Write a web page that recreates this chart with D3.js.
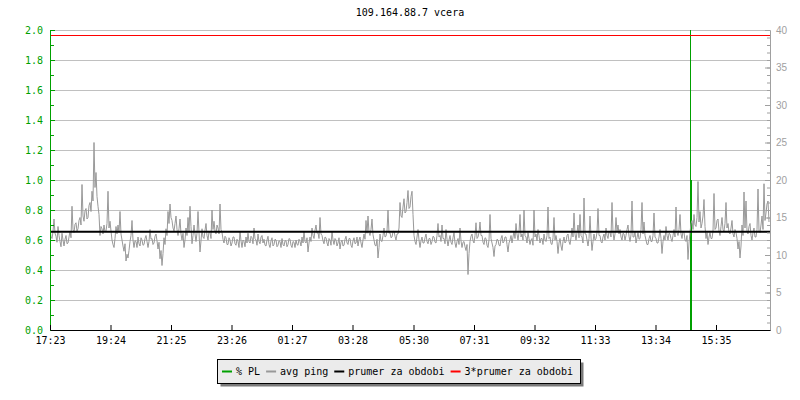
<!DOCTYPE html>
<html>
<head>
<meta charset="utf-8">
<script src="https://cdn.jsdelivr.net/npm/d3@7"></script>
<style>
  body { margin: 0; background: #fff; }
  text { font-family: "DejaVu Sans Mono", monospace; font-size: 10px; }
</style>
</head>
<body>
<div id="chart"></div>
<script>
// chart data
const title = "109.164.88.7 vcera";
const startTime = "17:23";
const spanMinutes = 1440;
const sampleMinutes = 2;
const tickLabels = ["17:23", "19:24", "21:25", "23:26", "01:27", "03:28", "05:30", "07:31", "09:32", "11:33", "13:34", "15:35"];
const plMax = 2.0, pingMax = 40;
const avgPing = 13.1;
const legendNames = ["% PL", "avg ping", "prumer za obdobi", "3*prumer za obdobi"];
const legendColors = ["#00a000", "#999999", "#000000", "#ff0000"];

// packet loss samples (time, %)
const plTimes = ["14:43", "14:45"];
const plValues = [2.6, 1.0];

// avg ping in ms, one sample every 2 minutes from 17:23
const ping = [
  13.5, 12.4, 12.2, 13.1, 14.8, 12.9, 12.5, 11.7, 13.8, 12.6, 11.8, 11.1, 12.9, 12.0, 11.2, 12.1, 12.6, 11.5, 11.6, 12.4, 13.2, 12.3, 16.5, 13.4,
  13.0, 14.1, 14.3, 13.2, 13.5, 14.6, 15.0, 14.0, 19.4, 15.2, 14.5, 15.9, 16.2, 14.8, 15.0, 16.6, 17.0, 15.8, 18.5, 17.2, 25.0, 19.0, 21.0, 17.8,
  16.5, 15.4, 12.6, 13.8, 13.5, 12.8, 14.0, 13.1, 13.2, 14.2, 18.5, 13.6, 14.5, 13.2, 12.0, 11.4, 11.0, 12.2, 13.8, 12.8, 14.0, 13.0, 15.8, 12.8,
  12.0, 11.2, 10.5, 11.5, 9.2, 10.1, 9.6, 10.6, 11.8, 12.6, 14.6, 12.0, 11.0, 11.9, 11.8, 11.0, 12.4, 11.5, 11.2, 12.3, 12.0, 11.3, 11.4, 12.2,
  12.6, 11.8, 11.0, 11.8, 13.4, 12.1, 12.2, 11.4, 11.6, 12.5, 12.8, 11.9, 10.8, 11.7, 9.5, 10.6, 8.6, 10.2, 12.3, 11.4, 13.5, 12.6, 15.8, 14.2,
  16.8, 15.0, 14.6, 13.6, 13.2, 14.2, 15.2, 13.4, 12.6, 13.5, 14.8, 12.8, 12.0, 12.9, 11.0, 12.0, 13.6, 12.6, 15.0, 13.2, 16.5, 13.8, 11.5, 12.6,

  14.0, 12.8, 11.8, 12.9, 15.8, 13.0, 10.4, 11.9, 13.5, 12.4, 12.2, 13.3, 14.2, 12.6, 12.0, 13.1, 13.0, 12.2, 16.0, 13.4, 14.5, 13.2, 12.8, 14.0,
  13.6, 12.8, 16.8, 13.4, 13.0, 12.1, 11.6, 12.5, 12.3, 11.4, 11.4, 12.3, 12.0, 11.2, 11.6, 12.4, 12.4, 11.5, 11.3, 12.1, 11.8, 11.0, 13.2, 11.9,
  11.0, 12.0, 11.8, 11.1, 12.4, 11.6, 12.9, 11.8, 11.6, 12.5, 12.3, 11.5, 13.6, 12.2, 12.0, 11.3, 12.8, 11.8, 11.5, 12.4, 12.6, 11.6, 12.1, 11.3,
  11.2, 12.0, 12.5, 11.4, 11.0, 11.9, 12.3, 11.2, 11.4, 12.1, 12.0, 11.1, 11.3, 11.9, 11.8, 11.0, 12.2, 11.4, 11.2, 11.9, 11.9, 11.1, 11.4, 12.2,
  12.1, 11.3, 11.0, 11.8, 11.7, 11.0, 12.0, 11.4, 11.3, 12.1, 11.8, 11.2, 12.4, 11.6, 13.2, 11.8, 11.6, 12.3, 10.4, 11.6, 12.4, 11.8, 13.6, 12.6,
  12.2, 13.3, 14.0, 12.9, 13.0, 12.2, 15.0, 12.8, 12.6, 11.9, 11.5, 12.4, 12.3, 11.6, 11.2, 12.2, 12.0, 11.3, 13.2, 12.0, 11.4, 12.2, 12.0, 11.2,

  11.6, 12.3, 10.8, 11.7, 12.0, 11.2, 11.3, 12.1, 12.5, 11.6, 11.4, 12.2, 12.2, 11.3, 11.0, 11.9, 12.3, 11.5, 11.6, 12.4, 11.2, 12.0, 12.4, 11.6,
  11.0, 12.0, 12.8, 12.1, 14.6, 12.9, 15.2, 13.0, 12.6, 13.4, 14.8, 12.7, 12.0, 11.3, 11.2, 12.1, 9.6, 11.0, 12.8, 11.9, 11.8, 12.6, 13.6, 12.4,
  12.5, 13.2, 16.0, 12.9, 13.0, 12.3, 12.4, 13.1, 13.2, 12.5, 12.0, 12.8, 12.8, 13.6, 17.0, 15.2, 15.0, 16.4, 17.5, 15.6, 15.8, 17.0, 18.6, 16.2,
  16.4, 17.8, 18.5, 15.4, 12.6, 11.8, 11.4, 12.4, 13.4, 12.0, 11.0, 11.9, 12.4, 11.6, 11.6, 12.3, 12.8, 11.8, 11.5, 12.2, 12.2, 11.4, 11.8, 12.5,
  12.4, 11.7, 11.6, 12.6, 14.2, 12.4, 12.6, 11.8, 14.0, 12.2, 12.2, 11.5, 13.4, 12.1, 11.2, 12.0, 12.6, 11.7, 11.4, 12.3, 13.0, 11.6, 11.0, 11.8,
  12.2, 11.4, 13.6, 11.9, 11.0, 11.7, 11.8, 11.1, 10.6, 11.4, 7.4, 10.2, 11.8, 12.5, 12.8, 11.9, 11.6, 12.6, 14.3, 12.2, 12.4, 13.0, 14.4, 12.6,

  12.6, 11.7, 11.4, 12.3, 12.2, 11.3, 11.0, 12.0, 15.4, 12.2, 11.6, 11.0, 9.8, 11.2, 11.4, 12.1, 12.0, 11.3, 11.2, 12.2, 12.6, 11.6, 11.8, 12.4,
  12.4, 11.4, 10.4, 11.6, 12.0, 12.6, 11.6, 12.4, 13.2, 12.2, 14.2, 12.8, 12.0, 13.0, 15.4, 12.4, 12.8, 12.0, 16.0, 12.6, 12.4, 11.6, 13.0, 12.2,
  11.4, 12.0, 12.2, 11.3, 16.0, 12.4, 12.8, 11.9, 13.4, 12.6, 11.6, 12.2, 12.2, 11.4, 12.8, 12.0, 11.8, 12.6, 16.4, 12.2, 12.4, 11.5, 11.4, 12.3,
  15.0, 12.0, 12.6, 11.8, 10.2, 11.6, 12.2, 11.2, 10.6, 11.8, 12.4, 11.6, 11.8, 12.6, 12.8, 11.8, 11.4, 12.3, 13.6, 12.4, 15.6, 12.8, 12.0, 13.0,
  14.0, 12.3, 15.4, 12.6, 12.4, 11.6, 17.6, 12.8, 12.8, 12.0, 11.2, 12.2, 15.2, 12.4, 10.6, 11.8, 12.8, 12.0, 12.2, 13.0, 16.2, 12.6, 12.6, 11.8,
  11.6, 12.4, 12.8, 12.0, 13.6, 12.6, 12.2, 13.2, 13.0, 12.4, 17.0, 13.0, 12.0, 12.8, 15.0, 13.2, 14.0, 12.8, 13.4, 12.4, 12.0, 12.9, 12.8, 12.0,

  12.6, 13.4, 14.0, 12.5, 11.8, 12.7, 17.2, 12.4, 12.4, 13.2, 11.6, 12.3, 13.0, 12.1, 12.2, 13.4, 17.0, 12.8, 14.4, 12.6, 12.0, 11.4, 11.4, 12.2,
  12.6, 11.8, 11.8, 12.6, 15.6, 12.4, 12.2, 11.6, 11.6, 12.4, 13.4, 12.2, 10.2, 11.8, 12.6, 12.0, 13.8, 12.6, 12.0, 12.9, 12.8, 12.2, 11.8, 12.6,
  13.4, 12.4, 16.4, 13.0, 12.6, 13.4, 15.4, 12.8, 12.2, 13.2, 13.0, 12.0, 11.8, 12.6, 9.4, 11.6, 13.0, 14.2, 14.6, 13.4, 15.4, 14.0, 13.8, 15.0,
  19.8, 14.4, 15.8, 13.6, 14.2, 15.2, 17.4, 13.8, 12.2, 13.0, 11.4, 12.4, 13.0, 12.2, 12.2, 13.2, 18.2, 13.4, 13.6, 14.6, 14.8, 13.2, 12.6, 13.8,
  15.0, 13.4, 13.2, 14.2, 17.0, 13.6, 14.2, 13.0, 12.8, 13.6, 14.6, 12.8, 12.4, 13.4, 13.0, 12.2, 10.8, 11.8, 9.6, 11.2, 14.0, 12.6, 18.4, 13.6,
  17.2, 13.2, 12.8, 13.8, 14.2, 12.6, 12.0, 13.0, 13.6, 12.4, 12.4, 13.4, 18.8, 13.2, 13.0, 14.0, 15.2, 13.4, 19.5, 14.6, 15.6, 16.8, 17.2, 14.4
];

const width = 800, height = 400;
const margin = {top: 30, right: 30, bottom: 70, left: 50};
const plotW = width - margin.left - margin.right;
const plotH = height - margin.top - margin.bottom;

// clock string -> Date, wrapping past midnight
const base = new Date(2020, 0, 1, 17, 23);
function toDate(s) {
  let [h, m] = s.split(":").map(Number);
  let d = new Date(2020, 0, 1, h, m);
  if (d < base) d = new Date(2020, 0, 2, h, m);
  return d;
}
const start = toDate(startTime);
const end = new Date(+start + spanMinutes * 60000);

let svg = d3.select("#chart").append("svg")
  .attr("width", width)
  .attr("height", height);

svg.append("text")
  .attr("x", margin.left + plotW / 2)
  .attr("y", 13)
  .attr("text-anchor", "middle")
  .attr("dominant-baseline", "middle")
  .text(title);

let g = svg.append("g")
  .attr("transform", `translate(${margin.left}, ${margin.top})`);

let x = d3.scaleTime().domain([start, end]).range([0, plotW]);
let yPl = d3.scaleLinear().domain([0, plMax]).range([plotH, 0]);
let yPing = d3.scaleLinear().domain([0, pingMax]).range([plotH, 0]);

svg.append("defs").append("clipPath").attr("id", "clip")
  .append("rect").attr("width", plotW).attr("height", plotH);

// horizontal grid
g.append("g")
  .selectAll("line")
  .data(d3.range(1, 11).map(d => d * 0.2))
  .enter().append("line")
  .attr("x1", 0).attr("x2", plotW)
  .attr("y1", d => Math.round(yPl(d)) + 0.5)
  .attr("y2", d => Math.round(yPl(d)) + 0.5)
  .attr("stroke", "#c0c0c0");

let plot = g.append("g").attr("clip-path", "url(#clip)");

// % PL bars
plot.selectAll("rect.pl")
  .data(plTimes.map((t, i) => ({t: toDate(t), v: plValues[i]})))
  .enter().append("rect")
  .attr("class", "pl")
  .attr("x", d => x(d.t))
  .attr("width", d => x(new Date(+d.t + 2 * 60000)) - x(d.t))
  .attr("y", d => yPl(d.v))
  .attr("height", d => plotH - yPl(d.v))
  .attr("fill", legendColors[0]);

// avg ping line
let line = d3.line()
  .x((d, i) => x(new Date(+start + i * sampleMinutes * 60000)))
  .y(d => yPing(d));

plot.append("path")
  .datum(ping)
  .attr("d", line)
  .attr("fill", "none")
  .attr("stroke", legendColors[1])
  .attr("stroke-width", 1);

// average and 3*average
g.append("line")
  .attr("x1", 0).attr("x2", plotW)
  .attr("y1", yPing(avgPing)).attr("y2", yPing(avgPing))
  .attr("stroke", legendColors[2])
  .attr("stroke-width", 2);

g.append("line")
  .attr("x1", 0).attr("x2", plotW)
  .attr("y1", Math.round(yPing(3 * avgPing)) + 0.5).attr("y2", Math.round(yPing(3 * avgPing)) + 0.5)
  .attr("stroke", legendColors[3])
  .attr("stroke-width", 1);

// left axis (% PL), ticks pointing in
let leftMinor = g.append("g")
  .call(d3.axisLeft(yPl).tickValues(d3.range(0, 21).map(d => d / 10)).tickSize(-4).tickSizeOuter(0).tickFormat(""));
let left = g.append("g")
  .call(d3.axisLeft(yPl).tickValues(d3.range(0, 11).map(d => d * 0.2)).tickSize(-5).tickSizeOuter(0)
    .tickPadding(7).tickFormat(d3.format(".1f")));
[leftMinor, left].forEach(a => {
  a.selectAll("path, line").attr("stroke", "#00a000").attr("stroke-width", 1);
});
left.selectAll("text").attr("fill", "#00a000")
  .style("font-family", "DejaVu Sans Mono").style("font-size", "10px");

// right axis (ping ms)
let rightMinor = g.append("g")
  .attr("transform", `translate(${plotW}, 0)`)
  .call(d3.axisRight(yPing).tickValues(d3.range(0, 41)).tickSize(-3).tickSizeOuter(0).tickFormat(""));
let right = g.append("g")
  .attr("transform", `translate(${plotW}, 0)`)
  .call(d3.axisRight(yPing).tickValues(d3.range(0, 41, 5)).tickSize(-5).tickSizeOuter(0).tickPadding(6));
[rightMinor, right].forEach(a => {
  a.selectAll("path, line").attr("stroke", "#a0a0a0");
});
right.selectAll("text").attr("fill", "#a0a0a0")
  .style("font-family", "Liberation Sans").style("font-size", "10px");

// time axis
let bottom = g.append("g")
  .attr("transform", `translate(0, ${plotH})`)
  .call(d3.axisBottom(x).tickValues(tickLabels.map(toDate)).tickSize(-5).tickSizeOuter(0)
    .tickPadding(7).tickFormat(d3.timeFormat("%H:%M")));
bottom.selectAll("path, line").attr("stroke", "#000");
bottom.selectAll("text").attr("fill", "#000")
  .style("font-family", "DejaVu Sans Mono").style("font-size", "10px");

// legend
let lx = 217.5, ly = 359.5, lw = 363, lh = 24;
svg.append("rect")
  .attr("x", lx + 3).attr("y", ly + 3).attr("width", lw).attr("height", lh)
  .attr("fill", "#7a7a7a");
svg.append("rect")
  .attr("x", lx).attr("y", ly).attr("width", lw).attr("height", lh)
  .attr("fill", "#ebebeb").attr("stroke", "#000");

let cx = 222;
legendNames.forEach((name, i) => {
  svg.append("line")
    .attr("x1", cx).attr("x2", cx + 10)
    .attr("y1", 371.5).attr("y2", 371.5)
    .attr("stroke", legendColors[i]).attr("stroke-width", 2);
  let t = svg.append("text")
    .attr("x", cx + 14).attr("y", 371.5)
    .attr("dominant-baseline", "middle")
    .text(name);
  cx += 14 + t.node().getComputedTextLength() + 6;
});
</script>
</body>
</html>
